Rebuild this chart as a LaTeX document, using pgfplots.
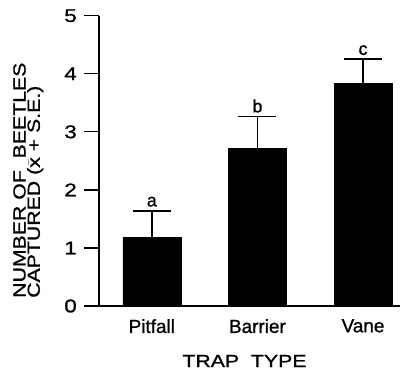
\documentclass[border=0pt]{standalone}
\usepackage{fontspec}
\setmainfont{Liberation Sans}[FakeBold=1]
\newfontfamily\widefont{Liberation Sans}[FakeStretch=1.22, FakeBold=1]
\usepackage{pgfplots}
\pgfplotsset{compat=1.18}
\begin{document}
\begin{tikzpicture}[x=1bp,y=1bp]
\useasboundingbox (0,0) rectangle (402,369);
\begin{axis}[
  at={(99bp,63bp)}, anchor=south west,
  scale only axis, width=301bp, height=290.3bp,
  xmin=-0.5, xmax=2.35, ymin=0, ymax=5,
  axis x line*=bottom, axis y line*=left,
  axis line style={-, line width=1.3bp},
  every tick/.style={line width=1.3bp, black},
  tick align=outside,
  ytick={0,1,2,3,4,5},
  xtick={0,1,2}, xticklabels={Pitfall,Barrier,Vane},
  major tick length=15bp,
  xtick style={draw=none},
  /pgf/number format/assume math mode=true,
  yticklabel style={font=\widefont\fontsize{18.5}{18.5}\selectfont, inner sep=0pt, xshift=-7bp},
  xticklabel style={font=\fontsize{19}{19}\selectfont, inner sep=0pt, yshift=2bp},
  clip=false,
]
\addplot[ybar, bar width=58bp, fill=black, draw=black,
  error bars/.cd, y dir=plus, y explicit,
  error bar style={line width=1.5bp, black},
  error mark options={line width=1.5bp, mark size=19bp, rotate=90, black}]
  coordinates {(0,1.18) +- (0,0.46) (1,2.71) +- (0,0.55) (2,3.84) +- (0,0.41)};
\addplot[draw=none, mark=none, nodes near coords, point meta=explicit symbolic,
  nodes near coords style={anchor=south, inner sep=0pt, yshift=4bp, font=\fontsize{18}{18}\selectfont, black}]
  table[meta=lab] {
x y lab
0 1.64 a
1 3.26 b
2 4.25 c
};
\end{axis}
\node[rotate=90, anchor=base west, inner sep=0pt, font=\widefont\fontsize{17.5}{17.5}\selectfont] at (25.5,71) {NUMBER OF\ \ BEETLES};
\node[rotate=90, anchor=base west, inner sep=0pt, font=\widefont\fontsize{17.5}{17.5}\selectfont] at (39.8,71) {CAPTURED ($\bar{\mbox{x}}$ + S.E.)};
\node[anchor=base, inner sep=0pt, font=\widefont\fontsize{17.5}{17.5}\selectfont] at (244.5,2) {TRAP\ \ TYPE};
\end{tikzpicture}
\end{document}
